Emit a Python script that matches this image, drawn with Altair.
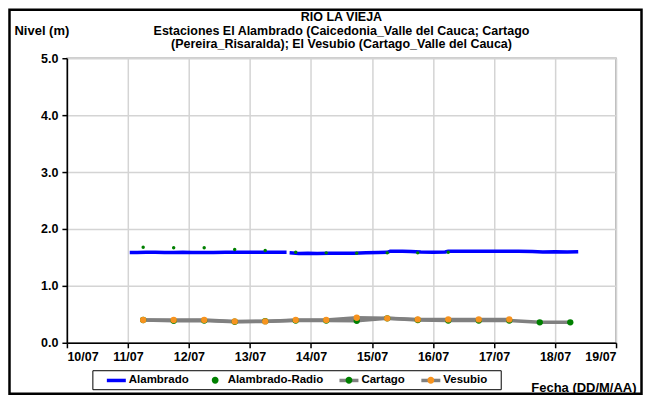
import json
import altair as alt
import pandas as pd

# ---------------- data ----------------
series_names = ["Alambrado", "Alambrado-Radio", "Cartago", "Vesubio"]

alambrado_seg1_day = [11.03, 11.15, 11.3, 11.45, 11.6, 11.75, 11.9, 12.05, 12.2, 12.4,
                      12.6, 12.8, 13.0, 13.2, 13.4, 13.6]
alambrado_seg1_val = [1.585, 1.585, 1.59, 1.59, 1.585, 1.585, 1.59, 1.585, 1.585, 1.585,
                      1.59, 1.59, 1.59, 1.59, 1.59, 1.59]
alambrado_seg2_day = [13.65, 13.8, 13.95, 14.1, 14.3, 14.5, 14.7, 14.9, 15.1, 15.25,
                      15.3, 15.5, 15.64, 15.8, 16.0, 16.2, 16.25, 16.5, 16.8, 17.1,
                      17.4, 17.63, 17.8, 18.0, 18.2, 18.38]
alambrado_seg2_val = [1.58, 1.57, 1.575, 1.57, 1.575, 1.575, 1.575, 1.58, 1.585, 1.59,
                      1.61, 1.61, 1.605, 1.595, 1.59, 1.595, 1.61, 1.61, 1.61, 1.61,
                      1.61, 1.605, 1.595, 1.6, 1.595, 1.6]

radio_day = [11.25, 11.75, 12.25, 12.75, 13.25, 13.75, 14.25, 14.75, 15.25, 15.75, 16.25]
radio_val = [1.68, 1.67, 1.67, 1.64, 1.62, 1.59, 1.58, 1.575, 1.58, 1.58, 1.59]

cartago_day = [11.25, 11.75, 12.25, 12.75, 13.25, 13.75, 14.25, 14.75, 15.25, 15.75,
               16.25, 16.75, 17.25, 17.75, 18.25]
cartago_val = [0.40, 0.385, 0.39, 0.37, 0.38, 0.39, 0.39, 0.385, 0.43, 0.40,
               0.39, 0.39, 0.39, 0.36, 0.36]

vesubio_day = [11.25, 11.75, 12.25, 12.75, 13.25, 13.75, 14.25, 14.75, 15.25, 15.75,
               16.25, 16.75, 17.25]
vesubio_val = [0.40, 0.40, 0.40, 0.375, 0.375, 0.40, 0.40, 0.44, 0.43, 0.41,
               0.41, 0.41, 0.41]

x_tick_days = [10, 11, 12, 13, 14, 15, 16, 17, 18, 19]
x_tick_labels = ["10/07", "11/07", "12/07", "13/07", "14/07", "15/07", "16/07",
                 "17/07", "18/07", "19/07"]
y_ticks = [0, 0.5, 1, 1.5, 2, 2.5, 3, 3.5, 4, 4.5, 5]

title_lines = ["RIO LA VIEJA",
               "Estaciones El Alambrado (Caicedonia_Valle del Cauca; Cartago",
               "(Pereira_Risaralda);  El Vesubio (Cartago_Valle del Cauca)"]

# ---------------- tables ----------------
rows = []
for d, v in zip(alambrado_seg1_day, alambrado_seg1_val):
    rows.append({"day": d, "val": v, "serie": "Alambrado", "key": "A1"})
for d, v in zip(alambrado_seg2_day, alambrado_seg2_val):
    rows.append({"day": d, "val": v, "serie": "Alambrado", "key": "A2"})
for d, v in zip(cartago_day, cartago_val):
    rows.append({"day": d, "val": v, "serie": "Cartago", "key": "C"})
for d, v in zip(vesubio_day, vesubio_val):
    rows.append({"day": d, "val": v, "serie": "Vesubio", "key": "V"})
lines_df = pd.DataFrame(rows)

# point series use prefixed keys so that their legend is kept apart from the line legend
point_keys = ["p_" + s for s in series_names]
pts = []
for d, v in zip(cartago_day, cartago_val):
    pts.append({"day": d, "val": v, "serie_p": "p_Cartago"})
for d, v in zip(vesubio_day, vesubio_val):
    pts.append({"day": d, "val": v, "serie_p": "p_Vesubio"})
points_df = pd.DataFrame(pts)
radio_df = pd.DataFrame({"day": radio_day, "val": radio_val,
                         "serie_p": ["p_Alambrado-Radio"] * len(radio_day)})
one_row = pd.DataFrame({"k": [0]})

FONT = "Liberation Sans"
BLUE, GREEN, ORANGE, GRAY = "#0000ff", "#008000", "#f7931e", "#808080"

label_expr = f"{json.dumps(x_tick_labels)}[round(datum.value) - 10]"

x_enc = alt.X("day:Q",
              scale=alt.Scale(domain=[10, 19], nice=False, zero=False),
              axis=alt.Axis(values=x_tick_days, labelExpr=label_expr,
                            title="Fecha (DD/M/AA)", titleX=570, titleY=49,
                            titleAlign="right", titleBaseline="alphabetic",
                            tickSize=5, labelPadding=3))
y_enc = alt.Y("val:Q",
              scale=alt.Scale(domain=[0, 5], nice=False),
              axis=alt.Axis(values=y_ticks, format=".1f", title="Nivel (m)",
                            titleAngle=0, titleX=-53, titleY=-24,
                            titleAlign="left", titleBaseline="alphabetic",
                            tickSize=5, labelPadding=4))

legend_common = dict(orient="none", legendX=38, legendY=311, direction="horizontal",
                     columns=4, title=None, symbolSize=361, symbolStrokeWidth=3.5,
                     labelFont=FONT, labelFontSize=11.5, labelFontWeight="bold",
                     labelColor="black", labelOffset=1, columnPadding=9, padding=0)

# both legend symbols span the same width so that both legends lay out identically
LINE_PATH = "M-1,0L1,0"
DOT_PATH = ("M-1,0L-1,0M1,0L1,0"
            "M-0.36,0a0.36,0.36 0 1,0 0.72,0a0.36,0.36 0 1,0 -0.72,0Z")

stroke_enc = alt.Stroke("serie:N",
                        scale=alt.Scale(domain=series_names,
                                        range=[BLUE, "transparent", GRAY, GRAY]),
                        legend=alt.Legend(symbolType=LINE_PATH,
                                          symbolFillColor="transparent",
                                          zindex=0, **legend_common))
fill_enc = alt.Fill("serie_p:N",
                    scale=alt.Scale(domain=point_keys,
                                    range=["transparent", GREEN, GREEN, ORANGE]),
                    legend=alt.Legend(symbolType=DOT_PATH,
                                      symbolStrokeColor="transparent",
                                      labelExpr="slice(datum.label, 2)",
                                      labelOpacity=0, zindex=1, **legend_common))

lines = alt.Chart(lines_df).mark_line(strokeWidth=3.5).encode(
    x=x_enc, y=y_enc, stroke=stroke_enc, detail="key:N", order="day:Q")

points = alt.Chart(points_df).mark_circle(size=40, opacity=1).encode(
    x="day:Q", y="val:Q", fill=fill_enc)

radio = alt.Chart(radio_df).mark_circle(size=12, opacity=1).encode(
    x="day:Q", y="val:Q", fill=fill_enc)

frame = alt.Chart(one_row).mark_rect(fill="transparent", stroke="black", strokeWidth=2.5).encode(
    x=alt.value(-57.5), x2=alt.value(575.5), y=alt.value(-48.5), y2=alt.value(336))

legend_box = alt.Chart(one_row).mark_rect(fill="transparent", stroke="black", strokeWidth=1).encode(
    x=alt.value(26), x2=alt.value(435), y=alt.value(313), y2=alt.value(332))

chart = alt.layer(frame, legend_box, lines, points, radio).properties(
    width=550, height=285,
    background="white",
    title=alt.TitleParams(text=title_lines, font=FONT, fontSize=12.5, fontWeight="bold",
                          anchor="middle", lineHeight=13.5, offset=-42, color="black"),
    autosize=alt.AutoSizeParams(type="none"),
    padding={"left": 59, "top": 50, "right": 27, "bottom": 53},
).configure_view(
    stroke="#a0a0a0", strokeWidth=1.5
).configure_axis(
    domainColor="black", domainWidth=1.5, tickColor="black", tickWidth=1.5,
    gridColor="#d4d4d4", gridWidth=1.5,
    labelFont=FONT, labelFontSize=12.5, labelFontWeight="bold", labelColor="black",
    titleFont=FONT, titleFontSize=13, titleFontWeight="bold", titleColor="black",
)

chart.save("out.html", embed_options={"renderer": "svg", "actions": False})
